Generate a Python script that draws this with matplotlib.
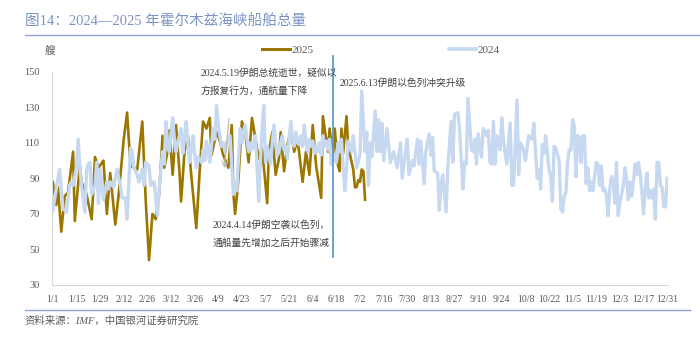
import matplotlib
matplotlib.use("Agg")
import matplotlib.pyplot as plt
from matplotlib.lines import Line2D

plt.rcParams['font.family'] = ['Liberation Serif', 'Noto Sans CJK SC', 'DejaVu Sans']

### Data (day index from 1/1, ship count)
days_2025 = [0, 2, 3, 5, 7, 9, 12, 13, 16, 17, 20, 23, 25, 27, 30, 32, 34, 37, 39, 42,
             44, 46, 50, 53, 55, 57, 59, 61, 63, 65, 66, 68, 69, 71, 73, 75, 76, 78, 80, 82,
             85, 87, 89, 91, 93, 94, 97, 99, 101, 104, 106, 107, 108, 110, 112, 114, 116, 118, 122, 124,
             127, 128, 130, 132, 134, 135, 137, 139, 141, 143, 145, 148, 150, 152, 154, 156, 159, 160, 163, 164,
             166, 167, 169, 170, 171, 172, 174, 175, 178, 179, 180, 181, 182, 183, 184, 185]
vals_2025 = [88, 75, 85, 60, 80, 82, 105, 66, 97, 88, 81, 67, 102, 96, 100, 70, 93, 64, 81, 112,
             127, 97, 95, 122, 78, 44, 70, 67, 81, 114, 96, 105, 117, 92, 120, 94, 77, 105, 114, 92,
             62, 94, 122, 118, 124, 103, 116, 111, 103, 96, 120, 81, 70, 90, 122, 116, 99, 124, 101, 107,
             76, 105, 116, 92, 101, 116, 94, 109, 117, 105, 112, 88, 105, 92, 120, 97, 79, 125, 105, 118,
             101, 118, 97, 94, 118, 104, 125, 108, 95, 85, 85, 89, 88, 95, 94, 78]

days_2024 = [0, 3, 4, 5, 6, 8, 10, 11, 12, 14, 15, 16, 17, 19, 20, 21, 22, 23, 25, 26,
             27, 28, 29, 30, 32, 33, 34, 36, 37, 38, 40, 41, 43, 44, 46, 47, 48, 50, 51, 53,
             54, 55, 57, 58, 59, 60, 62, 63, 64, 65, 66, 67, 68, 69, 70, 71, 72, 73, 74, 76,
             77, 78, 79, 80, 81, 82, 83, 84, 85, 86, 88, 89, 90, 91, 92, 93, 94, 95, 96, 97,
             98, 99, 100, 101, 102, 103, 105, 106, 107, 108, 109, 110, 111, 112, 113, 114, 115, 116, 117, 118,
             119, 120, 121, 122, 123, 124, 125, 126, 127, 128, 129, 130, 131, 132, 133, 134, 135, 136, 137, 138,
             139, 140, 141, 142, 143, 144, 145, 146, 147, 148, 149, 150, 151, 152, 153, 154, 155, 156, 157, 158,
             159, 160, 161, 162, 163, 164, 165, 166, 167, 168, 169, 170, 171, 172, 173, 174, 175, 177, 178, 180,
             182, 183, 185, 186, 187, 188, 189, 191, 192, 193, 194, 195, 196, 197, 198, 200, 202, 204, 206, 207,
             209, 210, 211, 213, 214, 216, 217, 218, 220, 221, 223, 224, 225, 226, 228, 229, 230, 231, 233, 234,
             236, 237, 238, 240, 241, 243, 244, 245, 246, 248, 249, 250, 251, 252, 254, 255, 257, 258, 259, 260,
             261, 262, 263, 265, 266, 267, 269, 271, 272, 273, 275, 276, 277, 279, 280, 282, 284, 285, 287, 288,
             289, 290, 291, 292, 294, 295, 296, 297, 298, 300, 301, 302, 303, 304, 305, 306, 307, 308, 309, 310,
             311, 312, 313, 314, 315, 316, 317, 318, 319, 320, 322, 323, 324, 325, 326, 327, 328, 329, 330, 331,
             332, 333, 334, 335, 336, 337, 338, 339, 340, 341, 342, 343, 344, 345, 346, 347, 348, 349, 350, 351,
             352, 353, 354, 355, 356, 357, 358, 359, 360, 361, 362, 363, 364]
vals_2024 = [72, 90, 95, 84, 73, 71, 86, 88, 86, 96, 112, 96, 86, 71, 94, 98, 99, 81, 86, 99,
             76, 95, 86, 78, 88, 84, 88, 85, 90, 95, 86, 79, 79, 67, 107, 105, 96, 92, 88, 95,
             86, 99, 97, 86, 88, 88, 69, 84, 95, 105, 98, 122, 110, 105, 115, 124, 112, 105, 110, 118,
             104, 112, 122, 110, 99, 106, 114, 104, 96, 102, 99, 106, 100, 111, 104, 99, 108, 118, 112, 131,
             120, 114, 108, 110, 105, 110, 114, 98, 81, 88, 83, 100, 118, 110, 116, 120, 112, 105, 110, 106,
             110, 114, 95, 77, 100, 118, 131, 99, 108, 104, 98, 110, 120, 110, 103, 105, 110, 114, 106, 108,
             101, 112, 122, 112, 108, 116, 110, 109, 114, 108, 120, 110, 105, 112, 108, 111, 104, 108, 105, 110,
             103, 114, 108, 111, 106, 112, 98, 104, 100, 99, 110, 105, 112, 96, 83, 95, 111, 105, 114, 96,
             103, 139, 105, 116, 86, 110, 102, 128, 105, 123, 105, 121, 100, 109, 118, 99, 105, 96, 110, 90,
             105, 112, 92, 100, 97, 112, 98, 111, 87, 105, 115, 103, 113, 94, 93, 72, 86, 92, 71, 96,
             122, 99, 126, 127, 118, 84, 99, 98, 135, 106, 105, 112, 98, 115, 102, 118, 114, 117, 99, 98,
             122, 98, 114, 106, 124, 111, 98, 121, 86, 86, 134, 92, 110, 106, 100, 114, 112, 121, 90, 95,
             84, 109, 104, 114, 95, 91, 77, 108, 107, 100, 73, 71, 80, 82, 99, 106, 106, 123, 119, 91,
             114, 113, 99, 114, 114, 87, 96, 83, 88, 83, 99, 98, 86, 97, 83, 84, 81, 69, 84, 91,
             89, 76, 99, 69, 77, 81, 86, 96, 90, 78, 88, 80, 88, 98, 92, 99, 93, 83, 70, 84,
             93, 79, 83, 79, 84, 67, 99, 99, 86, 85, 74, 74, 90]

tick_days = list(range(0, 365, 14))
tick_labels = ['1/1', '1/15', '1/29', '2/12', '2/26', '3/12', '3/26', '4/9', '4/23', '5/7',
               '5/21', '6/4', '6/18', '7/2', '7/16', '7/30', '8/13', '8/27', '9/10', '9/24',
               '10/8', '10/22', '11/5', '11/19', '12/3', '12/17', '12/31']
event_day = 166

gold = '#9c7700'
light_blue = '#c6d9f0'
grey_text = '#595959'

### Figure
W, H = 700, 346
fig = plt.figure(figsize=(W / 100, H / 100), dpi=100)
ax = fig.add_axes([52 / W, 1 - 285 / H, (668 - 52) / W, (285 - 71.7) / H])

ax.plot(days_2025, vals_2025, color=gold, lw=1.9, zorder=2, label='2025')
ax.plot(days_2024, vals_2024, color=light_blue, lw=2.4, zorder=3, label='2024')

ax.set_xlim(-0.5, 364.5)
ax.set_ylim(30, 150)
ax.set_yticks(range(30, 151, 20))
ax.set_xticks(tick_days)
ax.set_xticklabels(tick_labels)
ax.tick_params(axis='both', length=0, colors=grey_text, labelsize=7.5)
ax.tick_params(axis='x', pad=7, labelsize=7)
ax.tick_params(axis='y', pad=9)
for s in ['top', 'right']:
    ax.spines[s].set_visible(False)
for s in ['left', 'bottom']:
    ax.spines[s].set_color('#d9d9d9')
    ax.spines[s].set_linewidth(0.8)

# event line
ax.axvline(event_day, ymin=(46 - 30) / 120, ymax=(159 - 30) / 120,
           color='#5b9bd5', lw=1.3, clip_on=False, zorder=4)

# legend
h1 = Line2D([], [], color=gold, lw=2.2)
h2 = Line2D([], [], color=light_blue, lw=2.6)
leg = fig.legend([h1, h2], ['2025', '2024'], loc='center', ncol=2,
                 bbox_to_anchor=(381 / W, 1 - 50 / H), frameon=False, fontsize=8,
                 handlelength=2.5, handletextpad=0.1, columnspacing=12.2)
for t in leg.get_texts():
    t.set_color(grey_text)

# title and frame lines
fig.text(25 / W, 1 - 22 / H, '图14：2024—2025 年霍尔木兹海峡船舶总量',
         color='#7b94c4', fontsize=10.5, va='center', ha='left')
fig.add_artist(Line2D([25 / W, 1.0], [1 - 34.5 / H, 1 - 34.5 / H], color='#8ea5d0', lw=1.0))
fig.add_artist(Line2D([25 / W, 690 / W], [1 - 310 / H, 1 - 310 / H], color='#8ea5d0', lw=1.0))
fig.text(25 / W, 1 - 321 / H, '资料来源：IMF，中国银河证券研究院', color=grey_text,
         fontsize=7.5, style='italic', va='center', ha='left')
fig.text(45 / W, 1 - 51 / H, '艘', color=grey_text, fontsize=7.5, va='center', ha='left')

# annotations
txt_c = '#404040'
fig.text(201 / W, 1 - 73 / H, '2024.5.19伊朗总统逝世，疑似以', color=txt_c, fontsize=7, va='center')
fig.text(201 / W, 1 - 91 / H, '方报复行为，通航量下降', color=txt_c, fontsize=7, va='center')
fig.text(213 / W, 1 - 225 / H, '2024.4.14伊朗空袭以色列，', color=txt_c, fontsize=7, va='center')
fig.text(213 / W, 1 - 243 / H, '通船量先增加之后开始骤减', color=txt_c, fontsize=7, va='center')
fig.text(340 / W, 1 - 83 / H, '2025.6.13伊朗以色列冲突升级', color=txt_c, fontsize=7, va='center')

ax.annotate('', xy=(101.5, 94), xytext=(104.5, 125),
            arrowprops=dict(arrowstyle='->', color='#bfbfbf', lw=1.0), zorder=5)

fig.savefig('out.png', dpi=100)
